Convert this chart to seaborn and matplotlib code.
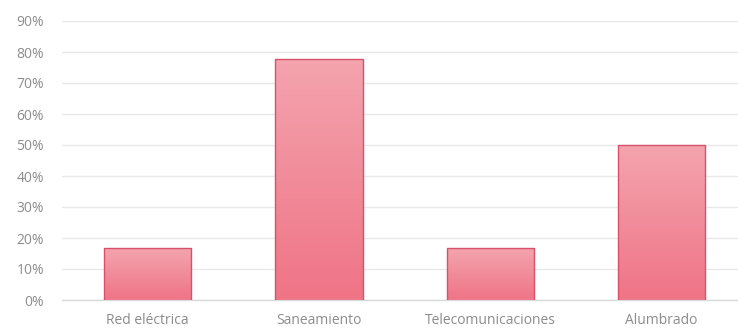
import matplotlib
matplotlib.use("Agg")
import matplotlib.pyplot as plt
import numpy as np
import pandas as pd
import seaborn as sns
from matplotlib.colors import LinearSegmentedColormap

categories = ["Red eléctrica", "Saneamiento", "Telecomunicaciones", "Alumbrado"]
values = [0.167, 0.778, 0.167, 0.50]
yticks = [0, 0.1, 0.2, 0.3, 0.4, 0.5, 0.6, 0.7, 0.8, 0.9]
ytick_labels = ["0%", "10%", "20%", "30%", "40%", "50%", "60%", "70%", "80%", "90%"]

sns.set_theme(style="white")
plt.rcParams['font.family'] = ['Open Sans', 'DejaVu Sans']

df = pd.DataFrame({"cat": categories, "val": values})

fig = plt.figure(figsize=(7.38, 3.32), dpi=100)
ax = fig.add_axes([62/738, 32/332, 676/738, 279/332])

sns.barplot(data=df, x="cat", y="val", ax=ax, color="#F08C98",
            width=0.51, edgecolor="#D9506A", linewidth=1.0, saturation=1)

# gradient fill clipped to bars
cmap = LinearSegmentedColormap.from_list("g", ["#EF7486", "#F4A4AE"])
grad = np.linspace(0, 1, 256).reshape(-1, 1)
for p in ax.patches:
    x0, y0 = p.get_x(), p.get_y()
    w, h = p.get_width(), p.get_height()
    im = ax.imshow(grad, cmap=cmap, origin="lower", aspect="auto",
                   extent=[x0, x0 + w, y0, y0 + h], zorder=p.get_zorder() - 0.1)
    im.set_clip_path(p)
    p.set_facecolor("none")
    p.set_zorder(3)

ax.set_xlim(-0.5, 3.446)
ax.set_ylim(0, 0.9)
ax.set_yticks(yticks)
ax.set_yticklabels(ytick_labels)
ax.set_xlabel("")
ax.set_ylabel("")
ax.yaxis.grid(True, color="#E8E8E8", linewidth=1.0)
ax.set_axisbelow(True)
for s in ["top", "right", "left"]:
    ax.spines[s].set_visible(False)
ax.spines["bottom"].set_color("#DADADA")
ax.spines["bottom"].set_linewidth(1.0)
ax.tick_params(axis="both", length=0, labelsize=10, colors="#8C8C8C")
ax.tick_params(axis="y", pad=13)
ax.tick_params(axis="x", pad=9)

fig.savefig("out.png", dpi=100)
